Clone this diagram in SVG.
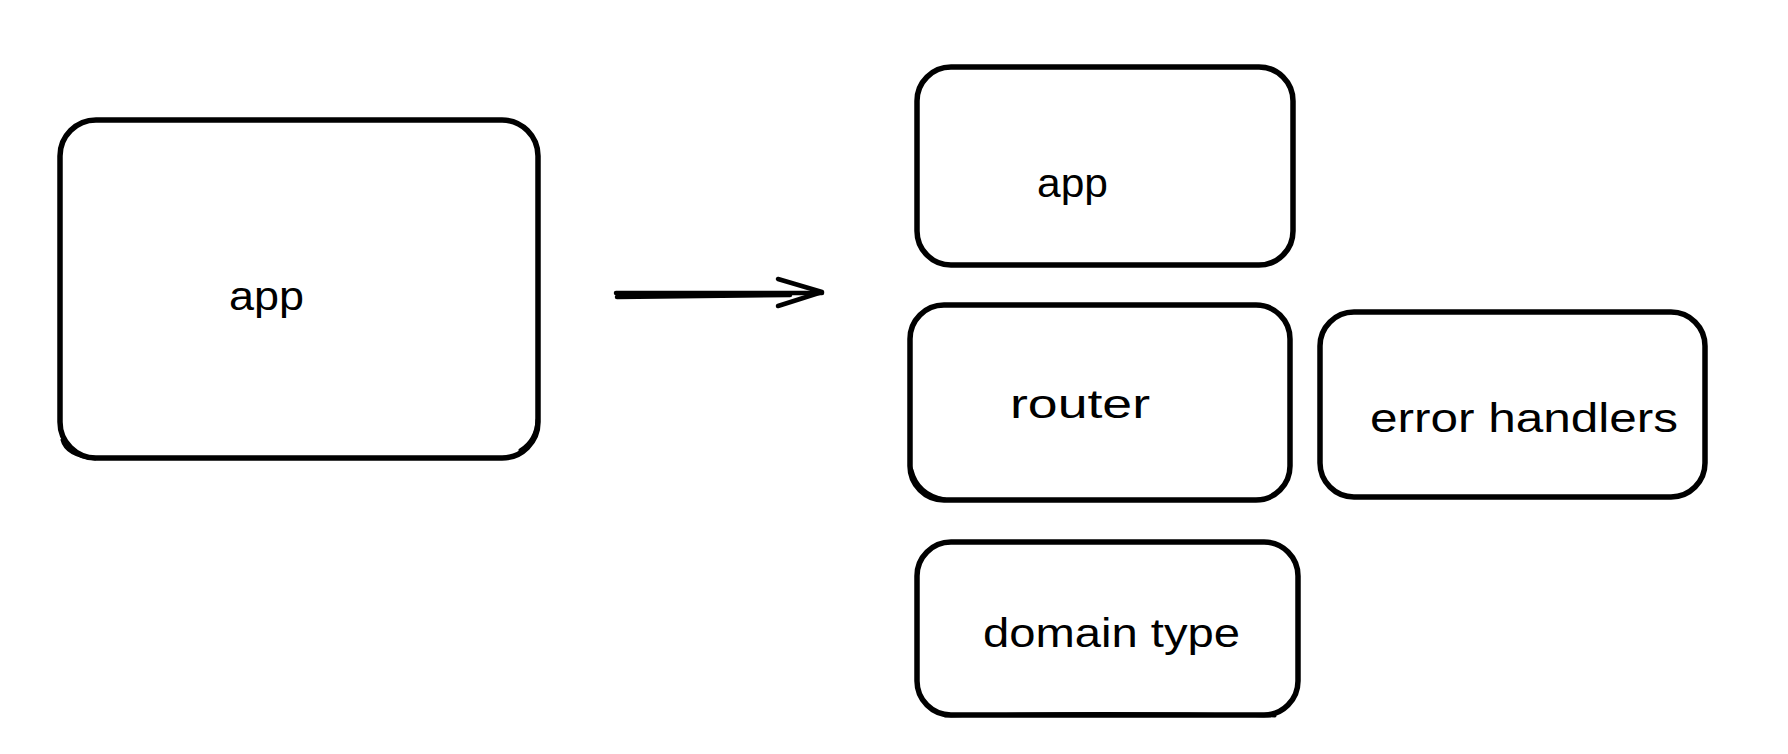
<svg xmlns="http://www.w3.org/2000/svg" width="1788" height="754" viewBox="0 0 1788 754">
<style>
.box{fill:#fff;stroke:#000;stroke-width:5.5;stroke-linejoin:round}
.sk{fill:none;stroke:#000;stroke-width:3;stroke-linecap:round}
.lbl{font-family:"Liberation Sans",Arial,sans-serif;font-size:40px;fill:#000}
.conn{fill:none;stroke:#000;stroke-width:4.5;stroke-linecap:round;stroke-linejoin:round}
</style>
<rect width="1788" height="754" fill="#fff"/>
<g id="app-big">
<rect class="box" x="60" y="120" width="478" height="338" rx="36"/>
<path class="sk" d="M62,440 Q66,456 95,459 M520,450 Q536,440 537,420"/>
<text class="lbl" x="229" y="310" textLength="75" lengthAdjust="spacingAndGlyphs">app</text>
</g>
<g id="connectors">
<path class="conn" d="M616,293 L822,293"/>
<path class="conn" d="M617,297 L790,295"/>
<path class="conn" d="M778,279 L822,292 L778,306"/>
</g>
<g id="app-small">
<rect class="box" x="917" y="67" width="376" height="198" rx="34"/>
<text class="lbl" x="1037" y="197" textLength="71" lengthAdjust="spacingAndGlyphs">app</text>
</g>
<g id="router">
<rect class="box" x="910" y="305" width="380" height="195" rx="34"/>
<path class="sk" d="M912,470 Q918,494 945,499"/>
<text class="lbl" x="1010" y="418" textLength="140" lengthAdjust="spacingAndGlyphs">router</text>
</g>
<g id="error-handlers">
<rect class="box" x="1320" y="312" width="385" height="185" rx="34"/>
<text class="lbl" x="1370" y="432" textLength="308" lengthAdjust="spacingAndGlyphs">error handlers</text>
</g>
<g id="domain-type">
<rect class="box" x="917" y="542" width="381" height="173" rx="34"/>
<path class="sk" d="M945,716 Q1100,711 1275,716"/>
<text class="lbl" x="983" y="647" textLength="257" lengthAdjust="spacingAndGlyphs">domain type</text>
</g>
</svg>
